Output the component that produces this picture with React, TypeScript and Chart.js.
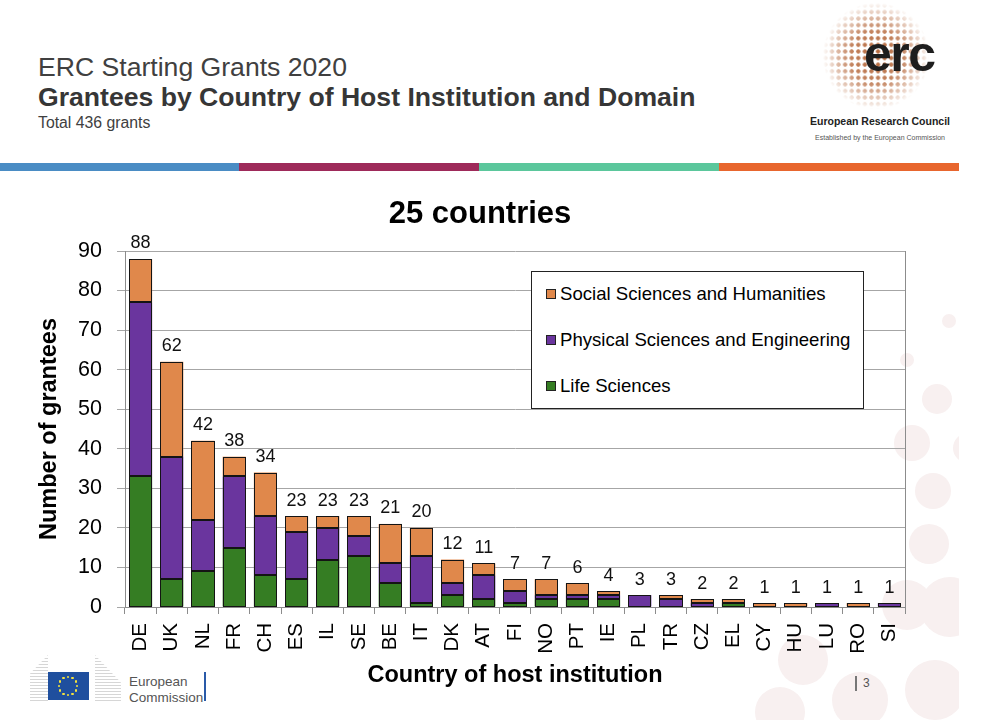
import React, { useEffect, useRef } from 'react';
import { Chart, registerables } from 'chart.js';

Chart.register(...registerables);

const FONT = '"Liberation Sans", Arial, Helvetica, sans-serif';

const categories = ['DE', 'UK', 'NL', 'FR', 'CH', 'ES', 'IL', 'SE', 'BE', 'IT', 'DK', 'AT', 'FI', 'NO', 'PT', 'IE', 'PL', 'TR', 'CZ', 'EL', 'CY', 'HU', 'LU', 'RO', 'SI'];
const lifeSciences = [33, 7, 9, 15, 8, 7, 12, 13, 6, 1, 3, 2, 1, 2, 2, 2, 0, 0, 0, 1, 0, 0, 0, 0, 0];
const physicalSciences = [44, 31, 13, 18, 15, 12, 8, 5, 5, 12, 3, 6, 3, 1, 1, 1, 3, 2, 1, 0, 0, 0, 1, 0, 1];
const socialSciences = [11, 24, 20, 5, 11, 4, 3, 5, 10, 7, 6, 3, 3, 4, 3, 1, 0, 1, 1, 1, 1, 1, 0, 1, 0];
const seriesNames = ['Life Sciences', 'Physical Sciences and Engineering', 'Social Sciences and Humanities'];
const seriesColors = ['#357d23', '#6a359e', '#e0884b'];
const yMin = 0;
const yMax = 90;
const yStep = 10;

const outlinePlugin = {
  id: 'outline',
  afterDatasetsDraw(chart: any) {
    const { ctx } = chart;
    ctx.save();
    ctx.strokeStyle = '#141414';
    ctx.lineWidth = 1;
    chart.data.datasets.forEach((ds: any, di: number) => {
      const meta = chart.getDatasetMeta(di);
      meta.data.forEach((el: any, i: number) => {
        if (!ds.data[i]) return;
        const { x, y, base, width } = el.getProps(['x', 'y', 'base', 'width'], true);
        const l = Math.round(x - width / 2) + 0.5;
        const r = Math.round(x + width / 2) - 0.5;
        const t = Math.round(Math.min(y, base)) + 0.5;
        const b = Math.round(Math.max(y, base)) - 0.5;
        ctx.strokeRect(l, t, r - l, b - t);
      });
    });
    ctx.restore();
  },
};

const totalsPlugin = {
  id: 'totals',
  afterDatasetsDraw(chart: any) {
    const { ctx, scales } = chart;
    const x = scales.x;
    const y = scales.y;
    ctx.save();
    ctx.font = `18px ${FONT}`;
    ctx.fillStyle = '#111';
    ctx.textAlign = 'center';
    ctx.textBaseline = 'alphabetic';
    categories.forEach((_, i) => {
      const total = chart.data.datasets.reduce((s: number, d: any) => s + (d.data[i] || 0), 0);
      ctx.fillText(String(total), x.getPixelForValue(i), y.getPixelForValue(total) - 10.5);
    });
    ctx.restore();
  },
};

const frameRightPlugin = {
  id: 'frameRight',
  beforeDatasetsDraw(chart: any) {
    const { ctx, chartArea } = chart;
    ctx.save();
    ctx.strokeStyle = '#8c8c8c';
    ctx.lineWidth = 1;
    ctx.beginPath();
    ctx.moveTo(Math.round(chartArea.right) + 0.5, chartArea.top);
    ctx.lineTo(Math.round(chartArea.right) + 0.5, chartArea.bottom);
    ctx.stroke();
    ctx.restore();
  },
};

function ChartCanvas() {
  const ref = useRef<HTMLCanvasElement | null>(null);
  useEffect(() => {
    if (!ref.current) return;
    const seriesData = [lifeSciences, physicalSciences, socialSciences];
    const chart = new Chart(ref.current, {
      type: 'bar',
      data: {
        labels: categories,
        datasets: seriesData.map((d, k) => ({
          label: seriesNames[k],
          data: d,
          backgroundColor: seriesColors[k],
          borderWidth: 0,
          barPercentage: 0.74,
          categoryPercentage: 1,
        })),
      },
      options: {
        animation: false,
        responsive: false,
        devicePixelRatio: 1,
        layout: { padding: { top: 61, right: 84, bottom: 0, left: 0 } },
        plugins: {
          legend: { display: false },
          tooltip: { enabled: false },
          title: { display: false },
        },
        scales: {
          x: {
            stacked: true,
            grid: { display: true, drawOnChartArea: false, drawTicks: true, tickLength: 7, offset: true, color: '#8c8c8c' },
            border: { color: '#8c8c8c' },
            ticks: {
              autoSkip: false,
              maxRotation: 90,
              minRotation: 90,
              padding: 9,
              color: '#000',
              font: { size: 20.5, family: FONT },
            },
            title: {
              display: true,
              text: 'Country of host institution',
              color: '#000',
              font: { size: 23.5, weight: 'bold', family: FONT },
              padding: 0,
            },
            afterFit: (s: any) => {
              s.height = 83;
            },
          },
          y: {
            stacked: true,
            min: yMin,
            max: yMax,
            grid: { color: '#a6a6a6', tickLength: 8, drawTicks: true },
            border: { color: '#8c8c8c' },
            ticks: {
              stepSize: yStep,
              padding: 15,
              color: '#000',
              font: { size: 21.5, family: FONT },
            },
            title: {
              display: true,
              text: 'Number of grantees',
              color: '#000',
              font: { size: 23.5, weight: 'bold', family: FONT },
              padding: { top: 35, bottom: 0 },
            },
            afterFit: (s: any) => {
              s.width = 125;
            },
          },
        },
      } as any,
      plugins: [frameRightPlugin, outlinePlugin, totalsPlugin],
    });
    return () => chart.destroy();
  }, []);
  return (
    <canvas
      ref={ref}
      width={989}
      height={500}
      style={{ position: 'absolute', left: 0, top: 190, width: 989, height: 500, zIndex: 1 }}
    />
  );
}

const bgCircles = [
  [949, 321, 7], [907, 360, 7], [937, 399, 15], [912, 443, 18], [968, 448, 15],
  [933, 491, 18], [929, 544, 20], [907, 605, 25], [950, 607, 30], [803, 660, 25],
  [780, 712, 25], [860, 700, 28], [935, 690, 30],
];

const legendItems = [
  { name: seriesNames[2], color: seriesColors[2], cy: 294 },
  { name: seriesNames[1], color: seriesColors[1], cy: 340 },
  { name: seriesNames[0], color: seriesColors[0], cy: 386 },
];

const stripeColors = ['#4a8cc4', '#9e2a5a', '#5bc79c', '#e8662e'];

export default function App() {
  const stars = Array.from({ length: 12 }, (_, i) => {
    const a = (i / 12) * Math.PI * 2;
    return { x: 68 + Math.cos(a) * 9, y: 686 + Math.sin(a) * 9 };
  });
  return (
    <div
      style={{
        position: 'fixed',
        left: 0,
        top: 0,
        width: 989,
        height: 720,
        background: '#fff',
        overflow: 'hidden',
        fontFamily: FONT,
      }}
    >
      {/* background decorative circles */}
      <div style={{ position: 'absolute', left: 0, top: 0, width: 959, height: 720, overflow: 'hidden' }}>
        {bgCircles.map(([cx, cy, r], i) => (
          <div
            key={i}
            style={{
              position: 'absolute',
              left: cx - r,
              top: cy - r,
              width: r * 2,
              height: r * 2,
              borderRadius: '50%',
              background: '#f8f0f0',
            }}
          />
        ))}
      </div>

      {/* header */}
      <div style={{ position: 'absolute', left: 38, top: 53.5, fontSize: 26.6, lineHeight: 1, color: '#404040', whiteSpace: 'nowrap' }}>
        ERC Starting Grants 2020
      </div>
      <div style={{ position: 'absolute', left: 38, top: 83.5, fontSize: 26.6, lineHeight: 1, fontWeight: 'bold', color: '#363636', whiteSpace: 'nowrap' }}>
        Grantees by Country of Host Institution and Domain
      </div>
      <div style={{ position: 'absolute', left: 38, top: 114.6, fontSize: 15.8, lineHeight: 1, color: '#404040', whiteSpace: 'nowrap' }}>
        Total 436 grants
      </div>

      {/* ERC logo */}
      <div
        style={{
          position: 'absolute',
          left: 822,
          top: 2,
          width: 108,
          height: 108,
          backgroundImage: 'radial-gradient(circle at center, #b5673a 0 1.8px, rgba(255,255,255,0) 2.4px)',
          backgroundSize: '6.6px 6.6px',
          WebkitMaskImage: 'radial-gradient(circle, rgba(0,0,0,1) 0%, rgba(0,0,0,0.8) 35%, rgba(0,0,0,0.3) 58%, rgba(0,0,0,0) 70%)',
          maskImage: 'radial-gradient(circle, rgba(0,0,0,1) 0%, rgba(0,0,0,0.8) 35%, rgba(0,0,0,0.3) 58%, rgba(0,0,0,0) 70%)',
        }}
      />
      <div style={{ position: 'absolute', left: 864, top: 29, fontSize: 50, lineHeight: 1, fontWeight: 'bold', letterSpacing: -1.5, color: '#1e1e1e' }}>
        erc
      </div>
      <div style={{ position: 'absolute', left: 790, width: 180, top: 116, fontSize: 10.5, lineHeight: 1, fontWeight: 'bold', color: '#222', textAlign: 'center', whiteSpace: 'nowrap' }}>
        European Research Council
      </div>
      <div style={{ position: 'absolute', left: 790, width: 180, top: 134, fontSize: 7, lineHeight: 1, color: '#555', textAlign: 'center', whiteSpace: 'nowrap' }}>
        Established by the European Commission
      </div>

      {/* colour band */}
      {stripeColors.map((c, i) => (
        <div key={c} style={{ position: 'absolute', left: i * 240 - (i > 0 ? 1 : 0), top: 163, width: 240, height: 8, background: c }} />
      ))}

      {/* chart title */}
      <div style={{ position: 'absolute', left: 330, width: 300, top: 197, fontSize: 31, lineHeight: 1, fontWeight: 'bold', color: '#000', textAlign: 'center', zIndex: 2 }}>
        25 countries
      </div>

      <ChartCanvas />

      {/* legend */}
      <div
        style={{
          position: 'absolute',
          left: 531,
          top: 271,
          width: 331,
          height: 136,
          border: '1px solid #222',
          background: '#fff',
          zIndex: 3,
        }}
      />
      {legendItems.map((it) => (
        <div
          key={it.name}
          style={{
            position: 'absolute',
            left: 546,
            top: it.cy - 12,
            height: 24,
            display: 'flex',
            alignItems: 'center',
            zIndex: 4,
            whiteSpace: 'nowrap',
          }}
        >
          <div style={{ width: 8, height: 8, background: it.color, border: '1px solid #222', marginRight: 4 }} />
          <span style={{ fontSize: 18.6, lineHeight: '24px', color: '#000' }}>{it.name}</span>
        </div>
      ))}

      {/* footer: EC logo */}
      <div style={{ position: 'absolute', left: 30, top: 655, width: 18, height: 46, backgroundImage: 'repeating-linear-gradient(180deg, #d6d6d6 0 1px, #fff 1px 3px)', clipPath: 'polygon(100% 0, 100% 100%, 0 100%, 0 40%)' }} />
      <div style={{ position: 'absolute', left: 48, top: 672, width: 41, height: 28, background: '#1f4f9e' }} />
      {stars.map((s, i) => (
        <div key={i} style={{ position: 'absolute', left: s.x - 1.2, top: s.y - 1.2, width: 2.4, height: 2.4, borderRadius: '50%', background: '#f5e23c' }} />
      ))}
      <div style={{ position: 'absolute', left: 95, top: 655, width: 26, height: 46, backgroundImage: 'repeating-linear-gradient(180deg, #d6d6d6 0 1px, #fff 1px 3px)', clipPath: 'polygon(0 0, 100% 60%, 100% 100%, 0 100%)' }} />
      <div style={{ position: 'absolute', left: 129, top: 674, fontSize: 13.5, lineHeight: '16px', color: '#555', whiteSpace: 'nowrap' }}>
        European
        <br />
        Commission
      </div>
      <div style={{ position: 'absolute', left: 204, top: 672, width: 2, height: 29, background: '#2a5aa8' }} />

      {/* page number */}
      <div style={{ position: 'absolute', left: 855, top: 676, width: 1.5, height: 15, background: '#777' }} />
      <div style={{ position: 'absolute', left: 863, top: 677, fontSize: 12, lineHeight: 1, color: '#555' }}>3</div>
    </div>
  );
}
